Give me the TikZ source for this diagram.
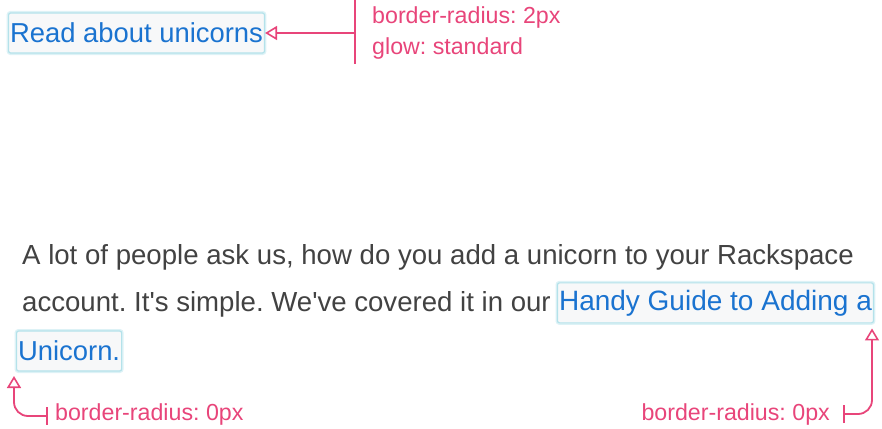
\documentclass[tikz,border=0pt]{standalone}
\usepackage{fontspec}
\setmainfont{Liberation Sans}
\usetikzlibrary{arrows.meta, positioning}

\definecolor{linkblue}{HTML}{1A73D0}
\definecolor{notepink}{HTML}{E8457A}
\definecolor{bodygray}{HTML}{424242}
\definecolor{boxfill}{HTML}{F7F8F9}
\definecolor{glowcyan}{HTML}{B4E2EA}

\frenchspacing

\tikzset{
  linkbox/.style={fill=boxfill, draw=glowcyan, line width=1.2pt, rounded corners=2pt,
    preaction={draw=glowcyan!45, line width=4pt},
    text=linkblue, font=\fontsize{27.4}{27.4}\selectfont, inner xsep=1.5pt, inner ysep=0pt,
    minimum height=40pt},
  bodytext/.style={text=bodygray, font=\fontsize{27.6}{27.6}\selectfont, inner sep=0pt},
  notetext/.style={text=notepink, font=\fontsize{23.2}{23.2}\selectfont, inner sep=0pt},
  noteline/.style={draw=notepink, line width=1.8pt},
  notetip/.tip={Triangle[open, length=12pt, width=14pt, line width=1.6pt]},
  notearrow/.style={noteline, -notetip}
}

\begin{document}
\begin{tikzpicture}[x=1pt, y=-1pt]
  \useasboundingbox (0,0) rectangle (882,428);

% the glowing link at the top and its note
  \node[linkbox, anchor=west] (readlink) at (8,33) {Read about unicorns};
  \coordinate (notetop) at (355,0);
  \coordinate (notebot) at (355,64);
  \coordinate (notemid) at (355,33);
  \node[notetext, anchor=base west] (radius2) at (372,24) {border-radius: 2px};
  \node[notetext, anchor=base west] (glow) at (372,55) {glow: standard};

% the paragraph
  \node[bodytext, anchor=base west] (lineone) at (22,264) {A lot of people ask us, how do you add a unicorn to your Rackspace};
  \node[bodytext, anchor=base west] (linetwo) at (22,311) {account. It\textquotesingle s simple. We\textquotesingle ve covered it in our};
  \node[linkbox, right=6pt of linetwo.east, anchor=west, yshift=1pt, font=\fontsize{28}{28}\selectfont] (guidelink) {Handy Guide to Adding a};
  \node[linkbox, anchor=west] (unilink) at (16,351) {Unicorn.};

% notes under the paragraph
  \node[notetext, anchor=west] (radiusleft) at (55,414) {border-radius: 0px};
  \node[notetext, anchor=east] (radiusright) at (830,414) {border-radius: 0px};
  \coordinate (barleft) at (48,416);
  \coordinate (barright) at (843,414);
  \coordinate (tipleft) at (14,376);
  \coordinate (tipright) at ([xshift=-2pt, yshift=-5pt]guidelink.south east);

% the links
  \draw[noteline] (notetop) -- (notebot);
  \draw[notearrow] (notemid) -- (readlink.east);
  \draw[notearrow, {Bar[width=18pt]}-notetip, rounded corners=14pt]
    (barleft) -| (tipleft);
  \draw[notearrow, {Bar[width=18pt]}-notetip, rounded corners=14pt]
    (barright) -| (tipright);
\end{tikzpicture}
\end{document}
